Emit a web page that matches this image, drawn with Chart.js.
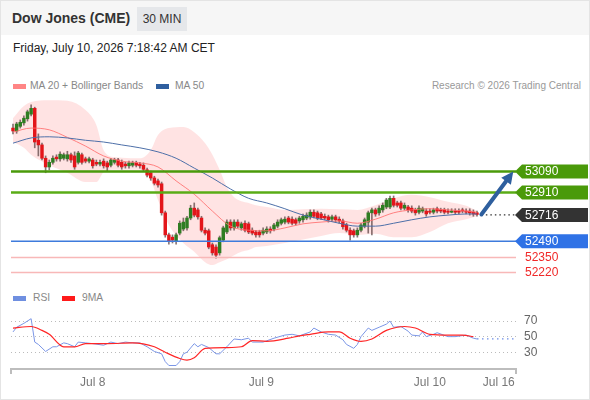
<!DOCTYPE html>
<html>
<head>
<meta charset="utf-8">
<title>Dow Jones (CME) 30 MIN</title>
<script src="https://cdn.jsdelivr.net/npm/chart.js@4.4.1/dist/chart.umd.min.js"></script>
<style>
  html, body { margin: 0; padding: 0; }
  body { width: 590px; height: 400px; position: relative; overflow: hidden; background: #fff; font-family: "Liberation Sans", Arial, sans-serif; }
  .frame { position: absolute; left: 0; top: 0; width: 588px; height: 398px; border: 1px solid #e4e4e4; }
  .header { position: absolute; left: 1px; top: 1px; width: 588px; height: 34px; background: #f6f6f6; }
  .title { position: absolute; left: 12px; top: 10px; font-size: 14px; font-weight: bold; color: #333; }
  .badge { position: absolute; left: 137px; top: 7px; width: 50px; height: 24px; line-height: 24px; text-align: center; background: #e5e7ea; font-size: 12px; color: #333; }
  .date { position: absolute; left: 13px; top: 41px; font-size: 12px; color: #222; }
  .legend { position: absolute; font-size: 10.3px; color: #888; white-space: nowrap; }
  .sw { position: absolute; width: 13px; height: 5px; }
  #main { position: absolute; left: 0; top: 95px; }
  #rsi { position: absolute; left: 0; top: 300px; }
</style>
</head>
<body>
<div class="frame"></div>
<div class="header"></div>
<div class="title">Dow Jones (CME)</div>
<div class="badge">30 MIN</div>
<div class="date">Friday, July 10, 2026 7:18:42 AM CET</div>

<div class="sw" style="left:13px; top:84px; background:#ff8585;"></div>
<div class="legend" style="left:30px; top:80px;">MA 20 + Bollinger Bands</div>
<div class="sw" style="left:156px; top:84px; background:#2f5f9f;"></div>
<div class="legend" style="left:175px; top:80px;">MA 50</div>
<div class="legend" style="right:9px; top:80px; color:#999; font-size:10px;">Research © 2026 Trading Central</div>

<div class="sw" style="left:13px; top:296px; background:#6f8fe0;"></div>
<div class="legend" style="left:33px; top:292px;">RSI</div>
<div class="sw" style="left:62px; top:296px; background:#ff1a1a;"></div>
<div class="legend" style="left:82px; top:292px;">9MA</div>

<canvas id="main" width="590" height="190"></canvas>
<canvas id="rsi" width="590" height="100"></canvas>

<script>
// 30 min candles, Jul 7 afternoon to Jul 10 07:00
const candleOpens = [
  53460, 53435, 53475, 53505, 53540, 53580, 53630, 53355, 53315, 53200,
  53125, 53165, 53210, 53195, 53200, 53195, 53230, 53220, 53165, 53230,
  53195, 53175, 53185, 53165, 53150, 53175, 53160, 53140, 53165, 53185,
  53165, 53150, 53135, 53140, 53160, 53150, 53140, 53100, 53075, 53030,
  53005, 52980, 52730, 52540, 52520, 52485, 52555, 52590, 52600, 52685,
  52770, 52755, 52685, 52580, 52575, 52455, 52435, 52385, 52495, 52565,
  52650, 52600, 52650, 52600, 52640, 52635, 52580, 52565, 52565, 52555,
  52565, 52590, 52590, 52615, 52640, 52650, 52685, 52675, 52670, 52660,
  52670, 52685, 52695, 52735, 52730, 52720, 52700, 52695, 52675, 52695,
  52675, 52660, 52625, 52580, 52575, 52540, 52580, 52615, 52650, 52730,
  52755, 52730, 52755, 52780, 52780, 52855, 52815, 52815, 52770, 52780,
  52770, 52755, 52735, 52745, 52745, 52745, 52735, 52765, 52755, 52755,
  52745, 52735, 52745, 52745, 52755, 52745, 52745, 52735, 52730
];
const candleHighs = [
  53495, 53510, 53530, 53565, 53615, 53660, 53640, 53410, 53330, 53220,
  53185, 53220, 53230, 53255, 53245, 53260, 53245, 53255, 53260, 53245,
  53210, 53210, 53200, 53185, 53185, 53195, 53175, 53200, 53200, 53200,
  53185, 53165, 53175, 53175, 53175, 53165, 53160, 53115, 53090, 53045,
  53020, 52995, 52745, 52555, 52540, 52555, 52660, 52685, 52700, 52795,
  52815, 52770, 52700, 52600, 52590, 52470, 52455, 52530, 52615, 52670,
  52670, 52670, 52670, 52650, 52660, 52650, 52600, 52580, 52580, 52600,
  52610, 52610, 52640, 52670, 52685, 52695, 52700, 52695, 52685, 52700,
  52720, 52730, 52755, 52755, 52745, 52735, 52720, 52710, 52710, 52710,
  52695, 52675, 52640, 52600, 52590, 52600, 52640, 52685, 52745, 52770,
  52770, 52790, 52815, 52855, 52875, 52875, 52830, 52830, 52815, 52795,
  52790, 52770, 52790, 52780, 52765, 52765, 52770, 52780, 52770, 52770,
  52765, 52765, 52765, 52765, 52770, 52765, 52765, 52755, 52745
];
const candleLows = [
  53410, 53415, 53460, 53485, 53520, 53565, 53290, 53220, 53185, 53075,
  53100, 53150, 53175, 53175, 53185, 53175, 53165, 53105, 53150, 53150,
  53160, 53160, 53115, 53135, 53135, 53115, 53090, 53125, 53150, 53125,
  53105, 53115, 53115, 53125, 53125, 53115, 53090, 53040, 53010, 52970,
  52950, 52710, 52520, 52460, 52470, 52460, 52540, 52575, 52580, 52670,
  52695, 52675, 52565, 52540, 52420, 52365, 52340, 52365, 52480, 52550,
  52580, 52580, 52600, 52580, 52565, 52550, 52540, 52520, 52520, 52540,
  52550, 52555, 52575, 52600, 52625, 52635, 52635, 52625, 52625, 52640,
  52650, 52670, 52675, 52685, 52670, 52670, 52670, 52650, 52660, 52650,
  52640, 52590, 52565, 52495, 52520, 52520, 52565, 52600, 52555, 52540,
  52700, 52710, 52735, 52765, 52765, 52780, 52780, 52755, 52755, 52735,
  52730, 52710, 52720, 52730, 52700, 52720, 52720, 52730, 52730, 52720,
  52720, 52730, 52720, 52720, 52730, 52720, 52710, 52700, 52700
];
const candleCloses = [
  53435, 53495, 53510, 53545, 53600, 53630, 53340, 53315, 53200, 53125,
  53165, 53200, 53195, 53235, 53230, 53230, 53185, 53125, 53245, 53165,
  53175, 53195, 53135, 53150, 53165, 53135, 53125, 53185, 53185, 53140,
  53125, 53135, 53160, 53160, 53140, 53135, 53105, 53055, 53030, 52985,
  52970, 52730, 52540, 52485, 52495, 52540, 52640, 52650, 52685, 52770,
  52710, 52695, 52580, 52555, 52435, 52385, 52365, 52515, 52600, 52650,
  52600, 52650, 52615, 52635, 52580, 52565, 52555, 52540, 52540, 52580,
  52590, 52575, 52625, 52650, 52670, 52675, 52650, 52640, 52640, 52685,
  52700, 52710, 52735, 52700, 52685, 52685, 52685, 52670, 52695, 52670,
  52660, 52610, 52580, 52540, 52540, 52580, 52625, 52670, 52730, 52755,
  52720, 52770, 52795, 52840, 52855, 52795, 52795, 52770, 52795, 52755,
  52745, 52730, 52770, 52765, 52720, 52735, 52755, 52745, 52745, 52735,
  52735, 52745, 52735, 52735, 52745, 52735, 52730, 52720, 52716
];

// moving averages (bar index -> price)
const maIndex = [0, 5, 10, 15, 20, 25, 30, 35, 40, 45, 50, 55, 60, 65, 70, 75, 80, 85, 90, 95, 100, 105, 110, 115, 120, 125, 128];
const ma20Values = [53425, 53460, 53445, 53380, 53305, 53220, 53175, 53160, 53125, 53005, 52890, 52745, 52615, 52580, 52575, 52600, 52635, 52650, 52660, 52640, 52675, 52730, 52755, 52765, 52755, 52745, 52735];
const ma50Values = [53330, 53375, 53385, 53375, 53355, 53340, 53315, 53290, 53255, 53200, 53115, 53030, 52935, 52855, 52815, 52765, 52710, 52675, 52640, 52615, 52615, 52640, 52670, 52695, 52710, 52720, 52720];

// Bollinger bands
const bandIndex = [0, 3, 5, 10, 15, 20, 23, 25, 28, 30, 35, 38, 40, 43, 47, 50, 53, 55, 57, 59, 61, 63, 65, 67, 70, 75, 85, 90, 95, 100, 105, 110, 115, 120, 125, 128];
const bandUpper = [53545, 53650, 53685, 53700, 53695, 53615, 53485, 53270, 53210, 53205, 53200, 53270, 53400, 53460, 53470, 53425, 53330, 53230, 53100, 52950, 52865, 52830, 52815, 52795, 52780, 52755, 52765, 52760, 52755, 52795, 52855, 52885, 52865, 52825, 52790, 52745];
const bandLower = [53340, 53290, 53230, 53140, 53075, 52995, 52995, 53080, 53100, 53100, 53100, 53010, 52840, 52625, 52470, 52395, 52305, 52280, 52305, 52330, 52365, 52395, 52410, 52435, 52445, 52470, 52530, 52555, 52540, 52550, 52520, 52520, 52565, 52640, 52675, 52700];

// RSI panel
const rsiIndex = [0, 1, 3, 5, 6, 7, 9, 11, 12, 14, 15, 17, 18, 20, 22, 25, 27, 29, 31, 33, 35, 37, 39, 41, 42, 43, 45, 46, 47, 48, 50, 51, 52, 54, 56, 57, 59, 61, 63, 65, 66, 69, 72, 75, 77, 79, 82, 83, 85, 87, 89, 91, 92, 94, 95, 96, 98, 99, 101, 103, 104, 105, 107, 109, 110, 112, 113, 114, 116, 117, 120, 122, 125, 127, 128];
const rsiValues = [56, 62, 67, 73, 43, 40, 31, 37, 37, 42, 41, 37, 43, 42, 41, 39, 43, 41, 43, 42, 42, 37, 31, 28, 18, 13, 13, 18, 28, 30, 41, 37, 40, 36, 28, 28, 37, 47, 46, 48, 43, 43, 48, 52, 53, 51, 56, 61, 56, 53, 52, 46, 40, 35, 40, 50, 61, 58, 62, 66, 70, 62, 63, 57, 52, 51, 56, 50, 53, 55, 50, 50, 52, 48, 47];
const nineIndex = [0, 5, 8, 10, 14, 17, 20, 26, 33, 39, 42, 46, 48, 50, 53, 59, 63, 66, 70, 76, 79, 82, 87, 90, 93, 96, 99, 103, 106, 108, 111, 115, 120, 124, 127];
const nineValues = [61, 63, 58, 53, 37, 37, 41, 41, 42, 37, 30, 22, 20, 23, 35, 36, 37, 45, 44, 48, 51, 53, 56, 56, 48, 44, 47, 58, 62, 63, 61, 53, 52, 52, 50];
const rsiTicks = [30, 50, 70];

// key levels and the projected move
const levelValues = [53090, 52910, 52716, 52490, 52350, 52220];
const arrowFrom = [129.2, 52716];
const arrowTo = [138, 53085];

// time axis
const tickIndex = [22, 68.5, 115, 134];
const tickLabels = ['Jul 8', 'Jul 9', 'Jul 10', 'Jul 16'];
const xMin = -0.55;
const xMax = 138.76;

const levelStyles = [
  { line: '#4a9a0a', width: 2.5, box: '#4a9a0a', text: '#fff' },
  { line: '#5aac16', width: 2.5, box: '#4a9a0a', text: '#fff' },
  { line: '#333', width: 1.3, dash: [1.5, 3], box: '#333', text: '#fff', fromLast: true },
  { line: '#3e7bdc', width: 1.5, box: '#2f72e6', text: '#fff' },
  { line: '#f8b8b8', width: 1.5, box: null, text: '#f02828' },
  { line: '#f8b8b8', width: 1.5, box: null, text: '#f02828' }
];

Chart.defaults.font.family = '"Liberation Sans", Arial, sans-serif';

function pts(xs, ys) {
  return xs.map((x, i) => ({ x: x, y: ys[i] }));
}

// draws the level lines, price tags and the arrow
const levelsPlugin = {
  id: 'levels',
  afterDatasetsDraw(chart) {
    const { ctx, chartArea, scales } = chart;
    ctx.save();
    levelValues.forEach((v, k) => {
      const st = levelStyles[k];
      const y = scales.y.getPixelForValue(v) + 0.5;
      const x0 = st.fromLast ? scales.x.getPixelForValue(arrowFrom[0]) : chartArea.left;
      ctx.strokeStyle = st.line;
      ctx.lineWidth = st.width;
      ctx.setLineDash(st.dash || []);
      ctx.beginPath();
      ctx.moveTo(x0, y);
      ctx.lineTo(chartArea.right, y);
      ctx.stroke();
      ctx.setLineDash([]);
      const r = chartArea.right;
      if (st.box) {
        ctx.fillStyle = st.box;
        ctx.beginPath();
        ctx.moveTo(r - 1, y);
        ctx.lineTo(r + 6, y - 7);
        ctx.lineTo(r + 72, y - 7);
        ctx.lineTo(r + 72, y + 7);
        ctx.lineTo(r + 6, y + 7);
        ctx.closePath();
        ctx.fill();
      }
      ctx.fillStyle = st.text;
      ctx.font = '12px "Liberation Sans", Arial, sans-serif';
      ctx.textBaseline = 'middle';
      ctx.textAlign = 'left';
      ctx.fillText(String(v), r + 9, y + 0.5);
    });

    const ax = scales.x.getPixelForValue(arrowFrom[0]);
    const ay = scales.y.getPixelForValue(arrowFrom[1]);
    const bx = scales.x.getPixelForValue(arrowTo[0]);
    const by = scales.y.getPixelForValue(arrowTo[1]);
    const ang = Math.atan2(by - ay, bx - ax);
    const head = 12;
    ctx.strokeStyle = '#2e5f9e';
    ctx.fillStyle = '#2e5f9e';
    ctx.lineWidth = 4;
    ctx.lineCap = 'round';
    ctx.beginPath();
    ctx.moveTo(ax, ay);
    ctx.lineTo(bx - head * Math.cos(ang), by - head * Math.sin(ang));
    ctx.stroke();
    ctx.beginPath();
    ctx.moveTo(bx, by);
    ctx.lineTo(bx - head * Math.cos(ang) + 6 * Math.sin(ang), by - head * Math.sin(ang) - 6 * Math.cos(ang));
    ctx.lineTo(bx - head * Math.cos(ang) - 6 * Math.sin(ang), by - head * Math.sin(ang) + 6 * Math.cos(ang));
    ctx.closePath();
    ctx.fill();
    ctx.restore();
  }
};

// little end ticks of the time axis
const axisEnds = {
  id: 'axisEnds',
  afterDraw(chart) {
    const { ctx, chartArea } = chart;
    ctx.save();
    ctx.strokeStyle = '#bdbdbd';
    ctx.lineWidth = 2;
    ctx.beginPath();
    ctx.moveTo(chartArea.left, chartArea.bottom);
    ctx.lineTo(chartArea.left, chartArea.bottom + 5);
    ctx.moveTo(chartArea.right, chartArea.bottom);
    ctx.lineTo(chartArea.right, chartArea.bottom + 5);
    ctx.stroke();
    ctx.restore();
  }
};

new Chart(document.getElementById('main').getContext('2d'), {
  type: 'bar',
  data: {
    datasets: [
      {
        type: 'line',
        data: pts(bandIndex, bandUpper),
        borderColor: 'rgba(0,0,0,0)',
        pointRadius: 0,
        fill: false,
        cubicInterpolationMode: 'monotone',
        order: 6
      },
      {
        type: 'line',
        data: pts(bandIndex, bandLower),
        borderColor: 'rgba(0,0,0,0)',
        backgroundColor: 'rgba(255, 200, 200, 0.5)',
        pointRadius: 0,
        fill: '-1',
        cubicInterpolationMode: 'monotone',
        order: 5
      },
      {
        data: candleLows.map((l, i) => ({ x: i, y: [l, candleHighs[i]] })),
        backgroundColor: 'rgba(95, 70, 70, 0.75)',
        barThickness: 1,
        grouped: false,
        order: 4
      },
      {
        data: candleOpens.map((o, i) => ({ x: i, y: [o, candleCloses[i]] })),
        backgroundColor: (ctx) =>
          candleCloses[ctx.dataIndex] >= candleOpens[ctx.dataIndex] ? '#2f7d22' : '#e3151a',
        barThickness: 2.8,
        minBarLength: 1,
        grouped: false,
        order: 3
      },
      {
        type: 'line',
        data: pts(maIndex, ma20Values),
        borderColor: 'rgba(255, 110, 110, 0.85)',
        borderWidth: 1,
        pointRadius: 0,
        cubicInterpolationMode: 'monotone',
        order: 2
      },
      {
        type: 'line',
        data: pts(maIndex, ma50Values),
        borderColor: '#4d6fa8',
        borderWidth: 1,
        pointRadius: 0,
        cubicInterpolationMode: 'monotone',
        order: 1
      }
    ]
  },
  options: {
    responsive: false,
    animation: false,
    events: [],
    layout: { padding: { left: 11, right: 74, top: 0, bottom: 0 } },
    plugins: { legend: { display: false }, tooltip: { enabled: false } },
    scales: {
      x: { type: 'linear', display: false, min: xMin, max: xMax, offset: false },
      y: { type: 'linear', display: false, min: 52108, max: 53745 }
    }
  },
  plugins: [levelsPlugin]
});

new Chart(document.getElementById('rsi').getContext('2d'), {
  type: 'line',
  data: {
    datasets: [
      {
        data: pts(rsiIndex, rsiValues),
        borderColor: '#7b96e6',
        borderWidth: 1,
        pointRadius: 0,
        order: 2
      },
      {
        data: pts(nineIndex, nineValues),
        borderColor: '#ff2626',
        borderWidth: 1.2,
        pointRadius: 0,
        cubicInterpolationMode: 'monotone',
        order: 1
      },
      {
        data: [
          { x: rsiIndex[rsiIndex.length - 1], y: rsiValues[rsiValues.length - 1] },
          { x: xMax, y: rsiValues[rsiValues.length - 1] }
        ],
        borderColor: '#6d8ee6',
        borderWidth: 1.2,
        borderDash: [1.5, 3.5],
        pointRadius: 0,
        order: 3
      }
    ]
  },
  options: {
    responsive: false,
    animation: false,
    events: [],
    layout: { padding: { left: 11, right: 0, top: 0, bottom: 4.5 } },
    plugins: { legend: { display: false }, tooltip: { enabled: false } },
    scales: {
      x: {
        type: 'linear',
        min: xMin,
        max: xMax,
        afterBuildTicks: (s) => { s.ticks = tickIndex.map((v) => ({ value: v })); },
        ticks: {
          callback: (v, i) => tickLabels[i],
          autoSkip: false,
          maxRotation: 0,
          padding: 6,
          color: '#777',
          font: { size: 12 }
        },
        grid: { display: false, drawTicks: false },
        border: { color: '#bdbdbd', width: 2 }
      },
      y: {
        position: 'right',
        min: 8.4,
        max: 87.7,
        afterBuildTicks: (s) => { s.ticks = rsiTicks.map((v) => ({ value: v })); },
        afterFit: (s) => { s.width = 74; },
        ticks: { padding: 0, color: '#666', font: { size: 12 } },
        grid: { color: '#bbb', drawTicks: true, tickLength: 8, tickColor: 'rgba(0,0,0,0)' },
        border: { display: false, dash: [1, 3] }
      }
    }
  },
  plugins: [axisEnds]
});
</script>
</body>
</html>
